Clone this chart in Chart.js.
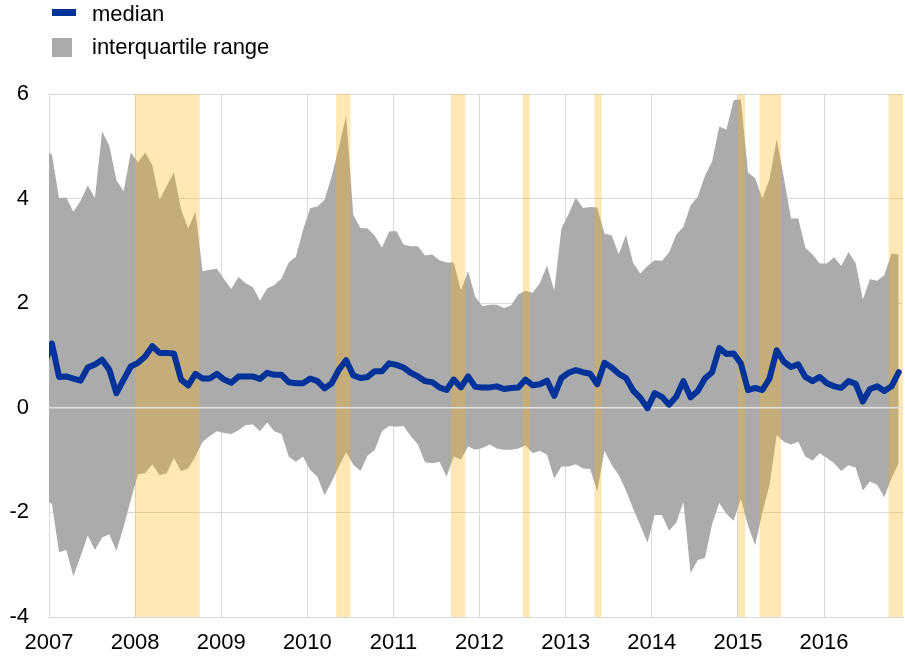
<!DOCTYPE html>
<html>
<head>
<meta charset="utf-8">
<script src="https://cdn.jsdelivr.net/npm/chart.js@4.4.1/dist/chart.umd.min.js"></script>
<style>
  body { margin: 0; background: #fff; }
  #wrap { position: relative; width: 905px; height: 657px; }
  #chart { position: absolute; left: 0; top: 0; }
  .swatch { position: absolute; left: 52px; }
  .label { position: absolute; left: 92px; font: 22px "Liberation Sans", Arial, sans-serif; line-height: 22px; color: #000; white-space: nowrap; }
</style>
</head>
<body>
<div id="wrap">
  <canvas id="chart" width="905" height="657"></canvas>
  <div class="swatch" style="top:9px;width:24px;height:7px;background:#003299"></div>
  <div class="label" style="top:3px">median</div>
  <div class="swatch" style="top:38px;width:20px;height:19px;background:#ababab"></div>
  <div class="label" style="top:36px">interquartile range</div>
</div>
<script>
// monthly observations, the first one (Dec 2006) lies just left of the axis
const firstMonth = "2006-12";
const yearLabels = ["2007", "2008", "2009", "2010", "2011", "2012", "2013", "2014", "2015", "2016"];

const median = [
  0.85, 1.23, 0.59, 0.60, 0.56, 0.52, 0.77, 0.83, 0.92, 0.73, 0.28, 0.54, 0.79,
  0.86, 0.98, 1.18, 1.05, 1.05, 1.04, 0.54, 0.43, 0.65, 0.56, 0.56, 0.65,
  0.54, 0.48, 0.60, 0.60, 0.60, 0.55, 0.67, 0.63, 0.63, 0.49, 0.47, 0.47,
  0.56, 0.51, 0.37, 0.47, 0.73, 0.91, 0.62, 0.57, 0.59, 0.70, 0.70, 0.85,
  0.82, 0.77, 0.67, 0.60, 0.51, 0.49, 0.39, 0.34, 0.54, 0.39, 0.60, 0.40,
  0.39, 0.39, 0.41, 0.36, 0.38, 0.39, 0.54, 0.43, 0.45, 0.52, 0.23, 0.57,
  0.67, 0.72, 0.68, 0.65, 0.45, 0.86, 0.77, 0.65, 0.57, 0.33, 0.19, -0.01,
  0.28, 0.21, 0.06, 0.21, 0.51, 0.20, 0.32, 0.56, 0.68, 1.14, 1.03, 1.04,
  0.85, 0.34, 0.38, 0.34, 0.56, 1.10, 0.88, 0.78, 0.83, 0.59, 0.51, 0.59,
  0.47, 0.41, 0.38, 0.51, 0.46, 0.12, 0.36, 0.41, 0.32, 0.41, 0.68
];

const upperQuartile = [
  4.90, 4.85, 4.01, 4.02, 3.75, 3.96, 4.25, 4.01, 5.29, 5.01, 4.35, 4.14, 4.88,
  4.69, 4.88, 4.64, 3.98, 4.24, 4.50, 3.79, 3.43, 3.75, 2.61, 2.64, 2.66,
  2.46, 2.27, 2.50, 2.38, 2.31, 2.05, 2.28, 2.35, 2.47, 2.78, 2.89, 3.40,
  3.82, 3.85, 3.98, 4.43, 4.98, 5.59, 3.69, 3.44, 3.43, 3.29, 3.06, 3.37,
  3.38, 3.12, 3.09, 3.09, 2.91, 2.93, 2.82, 2.78, 2.78, 2.25, 2.61, 2.12,
  1.94, 1.97, 1.97, 1.91, 1.96, 2.17, 2.24, 2.20, 2.38, 2.72, 2.24, 3.43,
  3.70, 4.02, 3.82, 3.84, 3.83, 3.33, 3.30, 2.93, 3.31, 2.77, 2.57, 2.71,
  2.82, 2.81, 2.97, 3.31, 3.46, 3.87, 4.04, 4.43, 4.71, 5.38, 5.32, 5.88,
  5.90, 4.50, 4.39, 4.00, 4.37, 5.14, 4.40, 3.62, 3.62, 3.06, 2.93, 2.76,
  2.76, 2.88, 2.71, 2.98, 2.77, 2.07, 2.46, 2.43, 2.54, 2.95, 2.93
];

const lowerQuartile = [
  -1.80, -1.83, -2.76, -2.72, -3.22, -2.84, -2.44, -2.72, -2.48, -2.42, -2.74, -2.28, -1.76,
  -1.27, -1.25, -1.08, -1.29, -1.25, -0.96, -1.21, -1.16, -0.93, -0.65, -0.54, -0.45,
  -0.48, -0.50, -0.43, -0.33, -0.32, -0.45, -0.28, -0.45, -0.50, -0.93, -1.03, -0.93,
  -1.19, -1.32, -1.67, -1.41, -1.12, -0.85, -1.09, -1.21, -0.91, -0.80, -0.45, -0.35,
  -0.36, -0.35, -0.54, -0.70, -1.04, -1.06, -1.03, -1.32, -0.93, -0.99, -0.74, -0.80,
  -0.77, -0.70, -0.78, -0.80, -0.80, -0.78, -0.72, -0.87, -0.82, -0.90, -1.35, -1.12,
  -1.12, -1.08, -1.16, -1.17, -1.60, -0.82, -1.09, -1.29, -1.58, -1.93, -2.25, -2.58,
  -2.05, -2.05, -2.35, -2.20, -1.80, -3.16, -2.91, -2.87, -2.22, -1.82, -2.03, -2.16,
  -1.74, -2.25, -2.63, -2.00, -1.48, -0.52, -0.65, -0.70, -0.65, -0.93, -1.01, -0.87,
  -0.96, -1.06, -1.21, -1.10, -1.14, -1.58, -1.41, -1.47, -1.71, -1.34, -1.06
];

// shaded periods, start month inclusive, end month exclusive
const shadedPeriods = [
  ["2008-01", "2008-10"],
  ["2010-05", "2010-07"],
  ["2011-09", "2011-11"],
  ["2012-07", "2012-08"],
  ["2013-05", "2013-06"],
  ["2015-01", "2015-02"],
  ["2015-04", "2015-07"],
  ["2016-10", "2016-12"]
];

// months counted from January 2007
function monthIndex(s) {
  const [y, m] = s.split("-").map(Number);
  return (y - 2007) * 12 + (m - 1);
}

const start = monthIndex(firstMonth);
function toPoints(values) {
  return values.map((v, i) => ({ x: start + i + 0.4, y: v }));
}

const shading = {
  id: "shading",
  afterDatasetDraw(chart, args) {
    if (args.index !== 1) return; // right after the interquartile fill
    const { ctx, chartArea, scales } = chart;
    ctx.save();
    ctx.beginPath();
    ctx.rect(chartArea.left, chartArea.top, chartArea.width, chartArea.height);
    ctx.clip();
    ctx.fillStyle = "rgba(255, 178, 11, 0.3)";
    shadedPeriods.forEach(([s, e]) => {
      const x0 = scales.x.getPixelForValue(monthIndex(s));
      const x1 = scales.x.getPixelForValue(monthIndex(e));
      ctx.fillRect(x0, chartArea.top, x1 - x0, chartArea.height);
    });
    const y0 = scales.y.getPixelForValue(0);
    ctx.strokeStyle = "#e2e2e2";
    ctx.lineWidth = 1.5;
    ctx.beginPath();
    ctx.moveTo(chartArea.left, y0);
    ctx.lineTo(chartArea.right, y0);
    ctx.stroke();
    ctx.restore();
  }
};

Chart.defaults.font.family = '"Liberation Sans", Arial, sans-serif';
Chart.defaults.font.size = 22;
Chart.defaults.color = "#000";

new Chart(document.getElementById("chart"), {
  type: "line",
  data: {
    datasets: [
      {
        label: "median",
        data: toPoints(median),
        borderColor: "#003299",
        borderWidth: 6,
        borderJoinStyle: "round",
        borderCapStyle: "round",
        pointRadius: 0,
        fill: false,
        clip: 0
      },
      {
        label: "interquartile range",
        data: toPoints(upperQuartile),
        borderColor: "transparent",
        borderWidth: 0,
        backgroundColor: "#ababab",
        pointRadius: 0,
        fill: "+1",
        clip: 0
      },
      {
        label: "lower quartile",
        data: toPoints(lowerQuartile),
        borderColor: "transparent",
        borderWidth: 0,
        pointRadius: 0,
        fill: false,
        clip: 0
      }
    ]
  },
  options: {
    responsive: false,
    animation: false,
    layout: { padding: { top: 94, right: 2, bottom: 0, left: 0 } },
    plugins: {
      legend: { display: false },
      tooltip: { enabled: false }
    },
    scales: {
      x: {
        type: "linear",
        min: 0,
        max: 119,
        grid: { color: "#d9d9d9", drawTicks: false },
        border: { color: "#d9d9d9" },
        ticks: {
          padding: 13,
          maxRotation: 0,
          autoSkip: false,
          callback: (value) => yearLabels[value / 12]
        },
        afterBuildTicks: (scale) => {
          scale.ticks = yearLabels.map((_, i) => ({ value: i * 12 }));
        },
        afterFit: (scale) => { scale.height = 40; }
      },
      y: {
        min: -4,
        max: 6,
        grid: { color: "#d9d9d9", drawTicks: false },
        border: { color: "#d9d9d9" },
        ticks: { stepSize: 2, padding: 20 },
        afterFit: (scale) => { scale.width = 49; }
      }
    }
  },
  plugins: [shading]
});
</script>
</body>
</html>
